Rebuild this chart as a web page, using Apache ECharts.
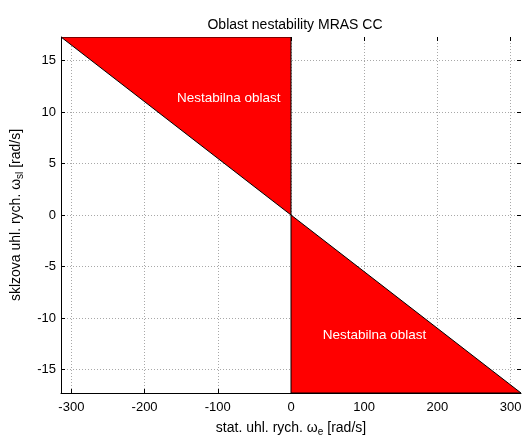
<!DOCTYPE html>
<html>
<head>
    <meta charset="utf-8">
    <script src="https://cdn.jsdelivr.net/npm/echarts@6/dist/echarts.min.js"></script>
    <style>
        html, body { margin: 0; padding: 0; background: #fff; }
        #container { width: 527px; height: 442px; }
    </style>
</head>
<body>
<div id="container"></div>
<script>
    // rozsah os (omega_e = +-100*pi, omega_sl = +-17.28)
    let xRange = [-314.16, 314.16];
    let yRange = [-17.28, 17.28];
    let xTicks = [-300, -200, -100, 0, 100, 200, 300];
    let yTicks = [-15, -10, -5, 0, 5, 10, 15];
    // nestabilni oblasti (trojuhelniky)
    let area1 = [[-314.16, 17.28], [0, 17.28], [0, 0]];
    let area2 = [[0, 0], [0, -17.28], [314.16, -17.28]];
    let areaText = 'Nestabilna oblast';
    let textPos = [[-85, 11.3], [114, -11.7]];

    let dom = document.getElementById("container");
    let myChart = echarts.init(dom);
    let areas = [area1, area2];
    let font = 'Liberation Sans, Arial, sans-serif';

    let gridStyle = {show: true, lineStyle: {color: '#a8a8a8', type: [1, 2], width: 1}};

    let option = {
        animation: false,
        title: {
            text: 'Oblast nestability MRAS CC',
            left: 290,
            top: 13,
            textAlign: 'center',
            textStyle: {fontFamily: font, fontSize: 14, fontWeight: 'normal', color: '#000'}
        },
        grid: {left: 61, right: 6, top: 37, bottom: 40},
        xAxis: [{
            type: 'value',
            min: xRange[0],
            max: xRange[1],
            position: 'bottom',
            axisLine: {show: true, onZero: false, lineStyle: {color: '#000', width: 1}},
            axisTick: {inside: true, length: 4, customValues: xTicks, lineStyle: {color: '#000'}},
            axisLabel: {customValues: xTicks, color: '#000', fontFamily: font, fontSize: 13, margin: 8},
            splitLine: gridStyle,
            name: 'stat. uhl. rych. ω{sub|e} [rad/s]',
            nameLocation: 'middle',
            nameGap: 27,
            nameTextStyle: {
                fontFamily: font, fontSize: 14, color: '#000',
                rich: {sub: {fontFamily: font, fontSize: 10, color: '#000', verticalAlign: 'bottom', padding: [7, 0, 0, 0]}}
            }
        }, {
            type: 'value',
            min: xRange[0],
            max: xRange[1],
            position: 'top',
            axisLine: {show: false, onZero: false},
            axisTick: {show: true, inside: true, length: 4, customValues: xTicks, lineStyle: {color: '#000'}},
            axisLabel: {show: false},
            splitLine: {show: false}
        }],
        yAxis: [{
            type: 'value',
            min: yRange[0],
            max: yRange[1],
            position: 'left',
            axisLine: {show: true, onZero: false, lineStyle: {color: '#000', width: 1}},
            axisTick: {inside: true, length: 4, customValues: yTicks, lineStyle: {color: '#000'}},
            axisLabel: {customValues: yTicks, color: '#000', fontFamily: font, fontSize: 13, margin: 5},
            splitLine: gridStyle,
            name: 'sklzova uhl. rych. ω{sub|sl} [rad/s]',
            nameLocation: 'middle',
            nameGap: 36,
            nameTextStyle: {
                fontFamily: font, fontSize: 14, color: '#000',
                rich: {sub: {fontFamily: font, fontSize: 10, color: '#000', verticalAlign: 'bottom', padding: [7, 0, 0, 0]}}
            }
        }, {
            type: 'value',
            min: yRange[0],
            max: yRange[1],
            position: 'right',
            axisLine: {show: false, onZero: false},
            axisTick: {show: true, inside: true, length: 4, customValues: yTicks, lineStyle: {color: '#000'}},
            axisLabel: {show: false},
            splitLine: {show: false}
        }],
        series: [{
            type: 'custom',
            xAxisIndex: 0,
            yAxisIndex: 0,
            clip: true,
            data: areas.map(function (a) { return a[0]; }),
            renderItem: function (params, api) {
                let pts = areas[params.dataIndex].map(function (p) { return api.coord(p); });
                return {
                    type: 'polygon',
                    shape: {points: pts},
                    style: {fill: '#ff0000', stroke: '#000', lineWidth: 1}
                };
            },
            z: 3
        }, {
            type: 'custom',
            xAxisIndex: 0,
            yAxisIndex: 0,
            data: textPos,
            renderItem: function (params, api) {
                let c = api.coord([api.value(0), api.value(1)]);
                return {
                    type: 'text',
                    x: c[0],
                    y: c[1],
                    style: {
                        text: areaText, fill: '#fff', font: '13.5px ' + font,
                        textAlign: 'center', textVerticalAlign: 'middle'
                    }
                };
            },
            z: 4
        }]
    };
    myChart.setOption(option);
</script>
</body>
</html>
